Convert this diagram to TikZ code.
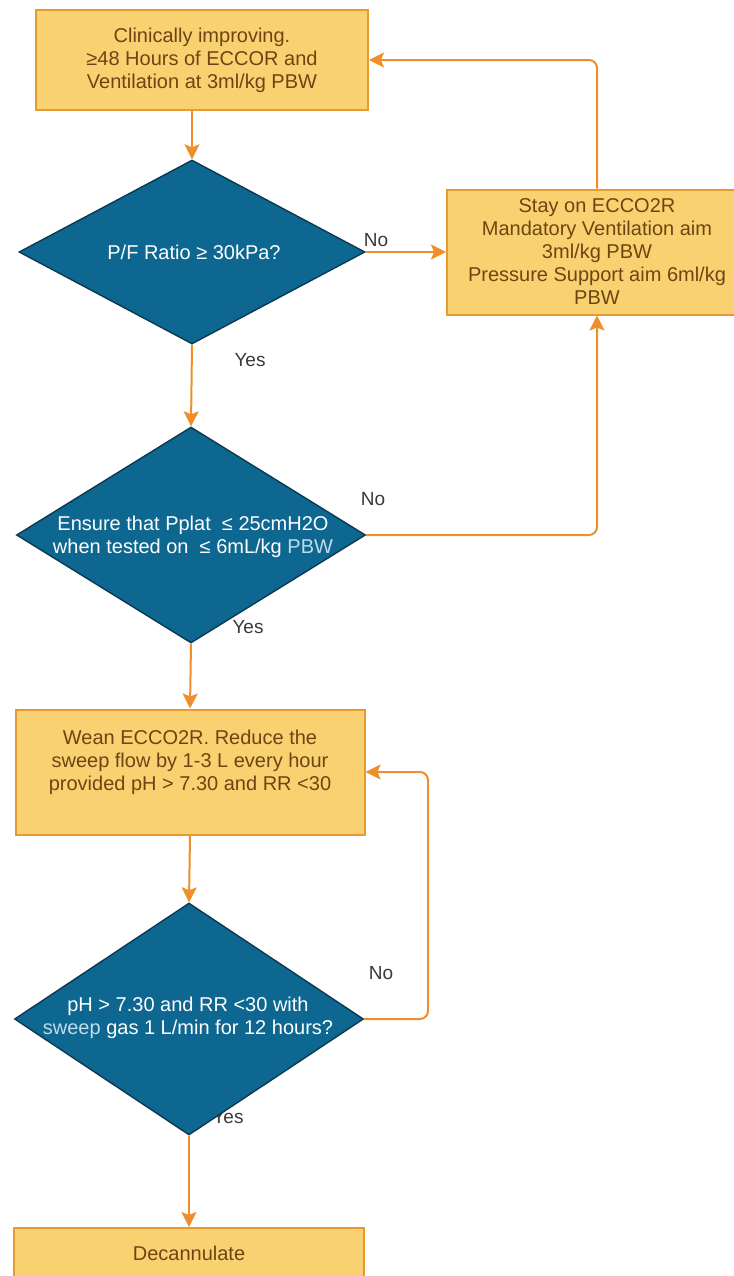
\documentclass[tikz,border=0pt]{standalone}
\usepackage{fontspec}
\setmainfont{Liberation Sans}
\usetikzlibrary{shapes.geometric, arrows.meta}
\definecolor{boxfill}{HTML}{FAD171}
\definecolor{boxline}{HTML}{E79A2F}
\definecolor{boxtext}{HTML}{6E4512}
\definecolor{dfill}{HTML}{0D6790}
\definecolor{dline}{HTML}{0A3A52}
\definecolor{flowc}{HTML}{EF8E2B}
\definecolor{labelc}{HTML}{3A3A3A}
\definecolor{lightblue}{HTML}{BFDCEA}
\begin{document}
\begin{tikzpicture}[x=0.5pt, y=-0.5pt,
    font=\fontsize{10}{11.5}\selectfont,
    process/.style={draw=boxline, line width=1pt, fill=boxfill, text=boxtext, align=center, inner sep=0pt},
    decision/.style={diamond, draw=dline, line width=0.7pt, fill=dfill, inner sep=0pt},
    dtext/.style={text=white, align=center, inner sep=0pt},
    flow/.style={draw=flowc, line width=1pt, -{Stealth[length=7.5pt, width=7.5pt, inset=1.5pt]}},
    answer/.style={text=labelc, font=\fontsize{9.5}{11}\selectfont, inner sep=0pt}]
    \path[use as bounding box, fill=white] (0,0) rectangle (734,1276);
    \clip (0,0) rectangle (734,1276);

    \node[process, minimum width=166pt, minimum height=50pt] (improve) at (202,60) {Clinically improving.\\≥48 Hours of ECCOR and\\Ventilation at 3ml/kg PBW};
    \node[process, minimum width=150pt, minimum height=62.5pt] (stay) at (597,252) {Stay on ECCO2R\\Mandatory Ventilation aim\\3ml/kg PBW\\Pressure Support aim 6ml/kg\\PBW};
    \node[process, minimum width=174.5pt, minimum height=62.5pt] (wean) at (190,772) {Wean ECCO2R. Reduce the\\sweep flow by 1-3 L every hour\\provided pH > 7.30 and RR <30\\~};
    \node[process, minimum width=175pt, minimum height=25pt] (decan) at (189,1253) {Decannulate};

    \node[answer] (no1) at (376,240) {No};
    \node[answer] (yes1) at (250,360) {Yes};
    \node[answer] (no2) at (373,499) {No};
    \node[answer] (yes2) at (248,627) {Yes};
    \node[answer] (no3) at (381,973) {No};
    \node[answer] (yes3) at (228,1117) {Yes};

    \node[decision, minimum width=173pt, minimum height=92pt] (ratio) at (192,252) {};
    \node[dtext] (ratiotxt) at (194,252) {P/F Ratio ≥ 30kPa?};
    \node[decision, minimum width=174.5pt, minimum height=108pt] (pplat) at (191,535) {};
    \node[dtext] (pplattxt) at (193,537) {Ensure that Pplat \ ≤ 25cmH2O\\when tested on \ ≤ 6mL/kg \textcolor{lightblue}{PBW}};
    \node[decision, minimum width=174.5pt, minimum height=116pt] (sweep) at (189,1019) {};
    \node[dtext] (sweeptxt) at (188,1018) {pH > 7.30 and RR <30 with\\\textcolor{lightblue}{sweep} gas 1 L/min for 12 hours?};

    \coordinate (back) at (428,772);
    \draw[flow] (improve.south -| ratio.north) -- (ratio.north);
    \draw[flow] (ratio.east) -- (stay.west);
    \draw[flow, rounded corners=4pt] (stay.north) |- (improve.east);
    \draw[flow] (ratio.south) -- (pplat.north);
    \draw[flow, rounded corners=4pt] (pplat.east) -| (stay.south);
    \draw[flow] (pplat.south) -- (wean.north);
    \draw[flow] (wean.south) -- (sweep.north);
    \draw[flow, rounded corners=4pt] (sweep.east) -| (back) -- (wean.east);
    \draw[flow] (sweep.south) -- (decan.north);
\end{tikzpicture}
\end{document}
